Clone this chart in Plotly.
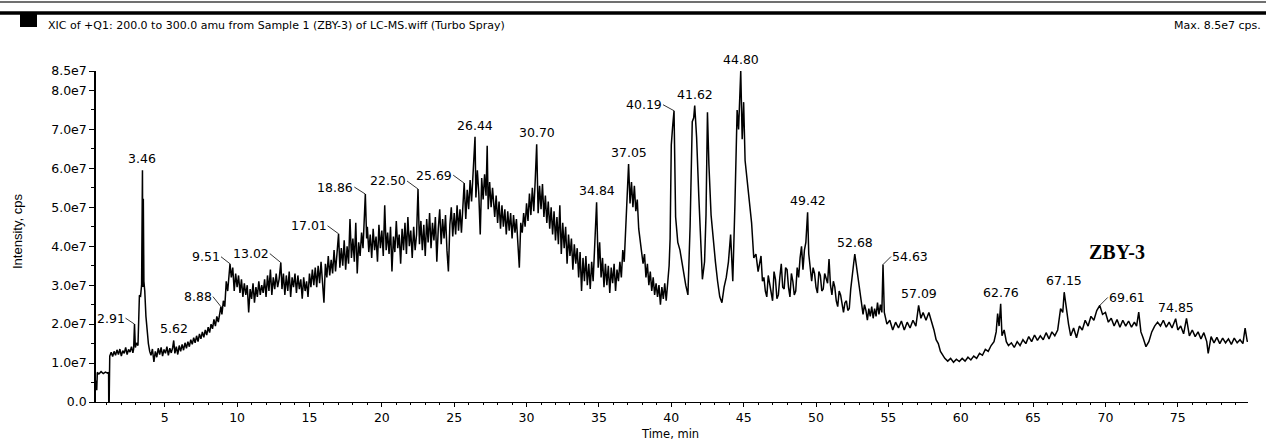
import plotly.graph_objects as go

# ---------------- data ----------------
# (retention time in min, intensity in units of 1e7 cps)
early_points = [
    (0.25, 0.35), (0.27, 0.55), (0.30, 0.30), (0.34, 0.76), (0.45, 0.72), (0.60, 0.78), (0.75, 0.73),
    (0.90, 0.77), (1.05, 0.74), (1.12, 0.76), (1.13, 0.00), (1.16, 0.00), (1.20, 1.18),
    (1.3, 1.28), (1.4, 1.17), (1.5, 1.30), (1.6, 1.20), (1.7, 1.34), (1.8, 1.22), (1.9, 1.36), (2.0, 1.18),
    (2.1, 1.32), (2.2, 1.25), (2.3, 1.40), (2.4, 1.22), (2.5, 1.35), (2.6, 1.28), (2.7, 1.42), (2.8, 1.26),
    (2.85, 1.36), (2.91, 2.00), (2.97, 1.40), (3.05, 1.52), (3.15, 1.45), (3.25, 2.74), (3.33, 2.72),
    (3.40, 3.00), (3.46, 5.95), (3.49, 2.95), (3.52, 5.22), (3.56, 3.10), (3.62, 2.85), (3.70, 2.20),
    (3.78, 1.80), (3.87, 1.50), (3.96, 1.30),
    (4.05, 1.20), (4.15, 1.36), (4.25, 1.03), (4.35, 1.30), (4.45, 1.15), (4.55, 1.38), (4.65, 1.22),
    (4.75, 1.40), (4.85, 1.18), (4.95, 1.35), (5.05, 1.25), (5.15, 1.42), (5.25, 1.20), (5.35, 1.38),
    (5.45, 1.26), (5.55, 1.40), (5.62, 1.58), (5.7, 1.25), (5.8, 1.42), (5.9, 1.22), (6.0, 1.45),
    (6.1, 1.30), (6.2, 1.48), (6.3, 1.33), (6.4, 1.52), (6.5, 1.38), (6.6, 1.55), (6.7, 1.42), (6.8, 1.60),
    (6.9, 1.48), (7.0, 1.65), (7.1, 1.52), (7.2, 1.70), (7.3, 1.55), (7.4, 1.75), (7.5, 1.62), (7.6, 1.80),
    (7.7, 1.66), (7.8, 1.85), (7.9, 1.72), (8.0, 1.92), (8.1, 1.78), (8.2, 2.00), (8.3, 1.88), (8.4, 2.12),
    (8.5, 1.95), (8.6, 2.20), (8.7, 2.05), (8.78, 2.30), (8.88, 2.45), (8.95, 2.25), (9.05, 2.60),
    (9.15, 2.45), (9.25, 3.10), (9.35, 2.85), (9.42, 3.30), (9.51, 3.55),
]

middle_points = [
    (9.6, 3.20), (9.7, 3.45), (9.8, 2.85), (9.9, 3.30), (10.0, 2.95), (10.1, 3.25), (10.2, 2.80),
    (10.3, 3.15), (10.4, 2.70), (10.5, 3.05), (10.6, 2.75), (10.7, 3.00), (10.8, 2.30), (10.9, 2.90),
    (11.0, 2.65), (11.1, 3.05), (11.2, 2.55), (11.3, 2.95), (11.4, 2.70), (11.5, 3.10), (11.6, 2.75),
    (11.7, 3.00), (11.8, 2.80), (11.9, 3.15), (12.0, 2.70),
    (12.1, 3.25), (12.2, 2.85), (12.3, 3.40), (12.4, 2.75), (12.5, 3.20), (12.6, 2.90), (12.7, 3.30),
    (12.8, 2.95), (12.9, 3.15), (13.02, 3.58), (13.1, 2.90), (13.2, 3.30), (13.3, 2.75), (13.4, 3.25),
    (13.5, 2.85), (13.6, 3.35), (13.7, 2.70), (13.8, 3.20), (13.9, 2.95), (14.0, 3.30), (14.1, 2.80),
    (14.2, 3.25), (14.3, 2.90), (14.4, 3.15), (14.5, 2.65), (14.6, 3.20), (14.7, 2.85), (14.8, 3.10),
    (14.9, 2.70), (15.0, 3.30), (15.1, 2.95), (15.2, 3.40),
    (15.3, 3.00), (15.4, 3.45), (15.5, 2.95), (15.6, 3.50), (15.7, 3.05), (15.8, 3.60), (15.9, 3.15),
    (16.0, 2.55), (16.1, 3.55), (16.2, 3.20), (16.3, 3.75), (16.4, 3.25), (16.5, 3.65), (16.6, 3.30),
    (16.7, 3.90), (16.8, 3.35), (16.9, 3.80), (17.01, 4.32), (17.1, 3.45), (17.2, 3.95), (17.3, 3.50),
    (17.4, 4.15), (17.5, 3.40), (17.6, 4.00), (17.7, 3.55), (17.8, 4.70), (17.9, 3.70), (18.0, 4.20),
    (18.1, 3.60), (18.2, 4.60), (18.3, 3.30), (18.4, 4.10), (18.5, 3.75),
    (18.6, 4.35), (18.7, 3.95), (18.86, 5.34), (18.95, 4.20), (19.0, 4.50), (19.1, 3.85), (19.2, 4.30),
    (19.3, 3.70), (19.4, 4.45), (19.5, 3.90), (19.6, 4.25), (19.7, 3.60), (19.8, 4.55), (19.9, 3.95),
    (20.0, 4.40), (20.1, 3.75), (20.2, 5.05), (20.3, 3.90), (20.4, 4.35), (20.5, 3.80), (20.6, 4.50),
    (20.7, 3.35), (20.8, 4.25), (20.9, 3.85), (21.0, 4.65), (21.1, 3.95), (21.2, 4.30), (21.3, 3.55),
    (21.4, 4.45), (21.5, 3.90), (21.6, 4.60), (21.7, 3.80), (21.8, 4.75), (21.9, 4.00), (22.0, 4.40),
    (22.1, 3.70), (22.2, 4.50), (22.3, 3.90), (22.4, 4.30), (22.5, 5.47),
    (22.6, 4.05), (22.7, 4.65), (22.8, 3.90), (22.9, 4.55), (23.0, 3.75), (23.1, 4.70), (23.2, 4.10),
    (23.3, 4.85), (23.4, 3.95), (23.5, 4.60), (23.6, 4.15), (23.7, 4.75), (23.8, 3.60), (23.9, 4.45),
    (24.0, 4.95), (24.1, 4.05), (24.2, 4.70), (24.3, 4.20), (24.4, 4.80), (24.5, 3.90), (24.6, 3.35),
    (24.7, 4.55), (24.8, 5.00), (24.9, 4.25), (25.0, 4.85), (25.1, 4.30), (25.2, 5.05), (25.3, 4.40),
    (25.4, 4.95), (25.5, 4.35), (25.6, 5.10), (25.69, 5.62),
    (25.8, 4.70), (25.9, 5.45), (26.0, 4.95), (26.1, 5.70), (26.2, 5.15), (26.3, 5.90), (26.44, 6.81),
    (26.5, 5.25), (26.6, 5.95), (26.7, 5.35), (26.8, 4.30), (26.9, 5.75), (27.0, 5.20), (27.1, 5.85),
    (27.2, 5.30), (27.28, 6.58), (27.35, 4.95), (27.45, 5.65), (27.55, 5.00), (27.65, 5.50),
    (27.8, 4.75), (27.9, 5.30), (28.0, 4.60), (28.1, 5.15), (28.2, 4.45), (28.3, 5.05), (28.4, 4.50),
    (28.5, 4.95), (28.6, 4.30), (28.7, 4.90), (28.8, 4.40), (28.9, 4.85), (29.0, 4.20), (29.1, 4.80),
    (29.2, 4.35), (29.3, 4.70), (29.4, 4.15), (29.5, 3.45), (29.6, 4.60), (29.7, 4.35), (29.8, 4.85),
    (29.9, 4.50),
    (30.0, 5.10), (30.1, 4.65), (30.2, 5.35), (30.3, 4.80), (30.4, 5.50), (30.5, 4.90), (30.6, 5.70),
    (30.7, 6.62), (30.8, 4.85), (30.9, 5.55), (31.0, 4.95), (31.1, 5.60), (31.2, 4.75), (31.3, 5.30),
    (31.4, 4.60), (31.5, 5.15),
    (31.6, 4.45), (31.7, 5.00), (31.8, 4.30), (31.9, 4.90), (32.0, 4.15), (32.1, 4.75), (32.2, 4.05),
    (32.3, 5.05), (32.4, 3.80), (32.5, 4.60), (32.6, 3.95), (32.7, 4.50), (32.8, 3.55), (32.9, 4.30),
    (33.0, 3.75), (33.1, 4.20), (33.2, 3.40), (33.3, 4.05), (33.4, 3.55), (33.5, 3.95), (33.6, 3.20),
    (33.7, 3.85), (33.8, 2.85), (33.9, 3.70), (34.0, 3.10), (34.1, 3.75), (34.2, 3.00), (34.3, 3.55),
    (34.4, 2.90), (34.5, 3.60), (34.6, 3.10), (34.7, 3.80), (34.84, 5.13),
    (34.95, 3.45), (35.05, 4.10), (35.15, 3.20), (35.25, 3.70), (35.35, 2.95), (35.45, 3.55),
    (35.55, 3.00), (35.65, 3.50), (35.75, 2.80), (35.85, 3.45), (35.95, 3.05), (36.05, 3.55),
    (36.15, 2.85), (36.25, 3.40), (36.35, 3.10), (36.45, 3.60), (36.55, 3.20), (36.65, 3.90),
    (36.75, 3.60), (36.85, 4.60), (36.95, 5.20), (37.05, 6.11), (37.15, 5.10), (37.25, 5.65),
    (37.35, 5.00), (37.45, 5.55), (37.55, 4.90), (37.65, 5.20), (37.75, 4.45), (37.85, 4.20),
    (37.95, 3.85), (38.05, 3.55), (38.15, 3.80),
]

late_points = [
    (38.25, 3.20), (38.35, 3.55), (38.45, 3.00), (38.55, 3.35), (38.65, 2.85), (38.75, 3.20),
    (38.85, 2.75), (38.95, 3.05), (39.05, 2.70), (39.15, 3.00), (39.25, 2.50), (39.35, 2.95),
    (39.45, 2.65), (39.55, 3.05), (39.65, 2.60), (39.75, 3.15), (39.85, 3.50), (39.92, 4.20),
    (40.0, 6.60), (40.1, 7.10), (40.19, 7.48), (40.3, 4.75), (40.45, 4.10), (40.6, 3.90), (40.8, 3.40),
    (41.0, 3.00), (41.15, 2.75), (41.3, 4.50), (41.45, 7.20), (41.55, 7.30), (41.62, 7.61), (41.75, 6.80),
    (41.9, 5.30), (42.05, 3.70), (42.15, 3.15), (42.3, 3.60), (42.4, 4.80), (42.5, 7.44), (42.6, 6.10),
    (42.75, 4.80), (42.9, 4.10), (43.05, 3.60), (43.2, 3.10), (43.35, 2.70), (43.5, 2.55), (43.65, 2.95),
    (43.8, 3.20), (43.95, 3.60), (44.1, 4.30), (44.25, 3.10), (44.4, 5.10), (44.55, 7.50), (44.65, 7.00),
    (44.8, 8.50), (44.9, 6.75), (45.0, 7.70), (45.1, 6.20), (45.25, 5.60), (45.4, 5.00), (45.55, 4.60),
    (45.7, 3.70), (45.85, 3.80), (46.0, 3.35),
    (46.1, 3.60), (46.2, 3.75), (46.3, 3.10), (46.4, 3.20), (46.5, 2.85), (46.6, 2.70), (46.7, 3.25),
    (46.8, 3.05), (46.9, 2.80), (47.0, 2.60), (47.1, 3.35), (47.2, 3.15), (47.3, 2.65), (47.4, 2.75),
    (47.5, 3.20), (47.6, 3.55), (47.7, 2.95), (47.8, 2.90), (47.9, 3.45), (48.0, 3.40), (48.1, 2.95),
    (48.2, 2.70), (48.3, 3.30), (48.4, 3.10), (48.5, 2.75), (48.6, 2.85), (48.7, 3.45), (48.8, 3.20),
    (48.9, 3.70), (49.0, 4.00), (49.1, 3.40), (49.2, 3.90), (49.3, 4.10), (49.42, 4.87), (49.5, 3.80),
    (49.6, 3.35), (49.7, 3.10), (49.8, 3.45), (49.9, 3.30), (50.0, 2.95), (50.1, 2.80), (50.2, 3.35),
    (50.3, 3.25), (50.4, 2.85), (50.5, 2.90), (50.6, 3.30), (50.7, 3.15), (50.8, 3.05), (50.9, 3.67),
    (51.0, 3.00), (51.1, 2.75), (51.2, 3.10), (51.3, 2.95), (51.4, 2.60), (51.5, 2.45), (51.6, 2.85),
    (51.7, 2.75), (51.8, 2.50), (51.9, 2.30), (52.0, 2.55), (52.1, 2.60), (52.2, 2.35), (52.3, 2.40),
    (52.4, 2.90), (52.5, 3.30), (52.6, 3.55), (52.68, 3.80), (52.75, 3.60), (52.85, 3.40), (52.95, 3.05),
    (53.05, 2.70), (53.15, 2.45), (53.25, 2.25), (53.35, 2.50), (53.45, 2.35), (53.55, 2.10),
    (53.65, 2.40), (53.75, 2.20), (53.85, 2.45), (53.95, 2.15), (54.05, 2.40), (54.15, 2.20),
    (54.25, 2.55), (54.35, 2.25), (54.45, 2.50), (54.55, 2.30), (54.63, 3.53), (54.72, 2.30),
    (54.8, 2.15), (54.9, 2.00),
]

tail_points = [
    (55.1, 2.10), (55.3, 1.85), (55.5, 2.05), (55.7, 1.90), (55.9, 2.08), (56.1, 1.85), (56.3, 2.05),
    (56.5, 1.90), (56.7, 2.10), (56.9, 1.95), (57.09, 2.48), (57.25, 2.15), (57.4, 2.30), (57.6, 2.10),
    (57.8, 2.30), (58.0, 2.05), (58.15, 1.85), (58.3, 1.60), (58.45, 1.50), (58.6, 1.30), (58.75, 1.22),
    (58.9, 1.12), (59.1, 1.05), (59.3, 1.12), (59.5, 1.02), (59.7, 1.10), (59.9, 1.04), (60.1, 1.12),
    (60.3, 1.05), (60.5, 1.15), (60.7, 1.08), (60.9, 1.18), (61.1, 1.12), (61.3, 1.25), (61.5, 1.20),
    (61.7, 1.35), (61.9, 1.30), (62.1, 1.45), (62.3, 1.55), (62.45, 1.80), (62.55, 2.27), (62.65, 1.95),
    (62.76, 2.52), (62.85, 1.70), (63.0, 1.85), (63.15, 1.55),
    (63.3, 1.45), (63.5, 1.52), (63.7, 1.40), (63.9, 1.55), (64.1, 1.45), (64.3, 1.60), (64.5, 1.50),
    (64.7, 1.68), (64.9, 1.55), (65.1, 1.72), (65.3, 1.58), (65.5, 1.70), (65.7, 1.60), (65.9, 1.78),
    (66.1, 1.62), (66.3, 1.80), (66.5, 1.70), (66.7, 1.85), (66.9, 2.40), (67.05, 2.30), (67.15, 2.82),
    (67.3, 2.35), (67.45, 2.00), (67.6, 1.70), (67.8, 1.90), (68.0, 1.65), (68.2, 1.95), (68.4, 1.85),
    (68.6, 2.10), (68.8, 1.95), (69.0, 2.20), (69.2, 2.10), (69.4, 2.35), (69.61, 2.48), (69.8, 2.25),
    (70.0, 2.30),
    (70.2, 2.05), (70.4, 2.15), (70.6, 1.95), (70.8, 2.12), (71.0, 1.92), (71.2, 2.10), (71.4, 1.95),
    (71.6, 2.08), (71.8, 1.92), (72.0, 2.05), (72.15, 1.95), (72.3, 2.31), (72.45, 1.80), (72.6, 1.65),
    (72.8, 1.42), (73.0, 1.55), (73.2, 1.80), (73.4, 1.95), (73.6, 2.05), (73.8, 1.95), (74.0, 2.10),
    (74.2, 1.92), (74.4, 2.05), (74.6, 1.90), (74.85, 2.14), (75.0, 1.85), (75.2, 1.95), (75.4, 1.75),
    (75.6, 2.15), (75.8, 1.70), (76.0, 1.85), (76.2, 1.68), (76.4, 1.80), (76.6, 1.62), (76.8, 1.78),
    (77.0, 1.55), (77.1, 1.25), (77.3, 1.68), (77.5, 1.52), (77.7, 1.66), (77.9, 1.50), (78.1, 1.64),
    (78.3, 1.52), (78.5, 1.62), (78.7, 1.48), (78.9, 1.64), (79.1, 1.52), (79.3, 1.60), (79.5, 1.50),
    (79.65, 1.90), (79.8, 1.55), (79.85, 1.58),
]

peak_labels = ["2.91", "3.46", "5.62", "8.88", "9.51", "13.02", "17.01", "18.86", "22.50",
               "25.69", "26.44", "30.70", "34.84", "37.05", "40.19", "41.62", "44.80", "49.42",
               "52.68", "54.63", "57.09", "62.76", "67.15", "69.61", "74.85"]

y_tick_values = [0, 1e7, 2e7, 3e7, 4e7, 5e7, 6e7, 7e7, 8e7, 8.5e7]
y_tick_text = ["0.0", "1.0e7", "2.0e7", "3.0e7", "4.0e7", "5.0e7", "6.0e7", "7.0e7", "8.0e7", "8.5e7"]

header_text = "XIC of +Q1: 200.0 to 300.0 amu from Sample 1 (ZBY-3) of LC-MS.wiff (Turbo Spray)"
max_text = "Max. 8.5e7 cps."
sample_name = "ZBY-3"

all_points = early_points + middle_points + late_points + tail_points
retention_time = [p[0] for p in all_points]
intensity = [p[1] * 1e7 for p in all_points]

# ---------------- style ----------------
# labels drawn with a short leader line: (dx px, dy px, anchor side)
leader_style = {
    "2.91": (-9, -6, "right"), "8.88": (-8, -10, "right"), "9.51": (-9, -7, "right"),
    "13.02": (-11, -9, "right"), "17.01": (-11, -8, "right"), "18.86": (-11, -7, "right"),
    "22.50": (-11, -8, "right"), "25.69": (-11, -8, "right"), "40.19": (-11, -6, "right"),
    "54.63": (8, -8, "left"), "69.61": (8, -8, "left"),
}
LABEL_FONT = dict(family="DejaVu Sans", size=12.5, color="black")
TICK_FONT = dict(family="DejaVu Sans", size=12.5, color="black")

W, H = 1266, 444
L, R, T, B = 96, 18, 71, 42
plot_w, plot_h = W - L - R, H - T - B


def px_to_paper_x(px):
    return (px - L) / plot_w


def py_to_paper_y(py):
    return (H - B - py) / plot_h


fig = go.Figure()
fig.add_trace(go.Scatter(
    x=retention_time, y=intensity, mode="lines",
    line=dict(color="black", width=1.5),
    hoverinfo="skip", showlegend=False,
))

annotations = []
lookup = dict(zip(retention_time, intensity))
for lab in peak_labels:
    t = float(lab)
    v = lookup[t]
    if lab in leader_style:
        dx, dy, side = leader_style[lab]
        annotations.append(dict(
            x=t, y=v, xref="x", yref="y", text=lab, showarrow=True,
            arrowhead=0, arrowwidth=0.8, arrowcolor="black", standoff=0,
            ax=dx, ay=dy, xanchor=side, yanchor="middle", font=LABEL_FONT, borderpad=0,
        ))
    else:
        annotations.append(dict(
            x=t, y=v, xref="x", yref="y", text=lab, showarrow=False,
            yanchor="bottom", yshift=2, font=LABEL_FONT,
        ))

annotations += [
    dict(text=header_text, xref="paper", yref="paper", x=px_to_paper_x(46), y=py_to_paper_y(25),
         xanchor="left", yanchor="middle", showarrow=False,
         font=dict(family="DejaVu Sans", size=11, color="black")),
    dict(text=max_text, xref="paper", yref="paper", x=px_to_paper_x(1263), y=py_to_paper_y(25),
         xanchor="right", yanchor="middle", showarrow=False,
         font=dict(family="DejaVu Sans", size=11, color="black")),
    dict(text=sample_name, xref="paper", yref="paper", x=px_to_paper_x(1117), y=py_to_paper_y(252),
         xanchor="center", yanchor="middle", showarrow=False,
         font=dict(family="Liberation Serif", size=20, color="black", weight="bold")),
    dict(text="Intensity, cps", xref="paper", yref="paper", x=px_to_paper_x(18), y=py_to_paper_y(232),
         xanchor="center", yanchor="middle", showarrow=False, textangle=-90,
         font=dict(family="Liberation Sans", size=13, color="black")),
    dict(text="Time, min", xref="paper", yref="paper", x=px_to_paper_x(670), y=py_to_paper_y(434),
         xanchor="center", yanchor="middle", showarrow=False,
         font=dict(family="DejaVu Sans", size=11.5, color="black")),
]

shapes = [
    dict(type="line", xref="paper", yref="paper", x0=px_to_paper_x(0), x1=px_to_paper_x(W),
         y0=py_to_paper_y(2), y1=py_to_paper_y(2), line=dict(color="#707070", width=2)),
    dict(type="line", xref="paper", yref="paper", x0=px_to_paper_x(0), x1=px_to_paper_x(W),
         y0=py_to_paper_y(13), y1=py_to_paper_y(13), line=dict(color="black", width=3.5)),
    dict(type="rect", xref="paper", yref="paper", x0=px_to_paper_x(20), x1=px_to_paper_x(37),
         y0=py_to_paper_y(27), y1=py_to_paper_y(14), fillcolor="black", line=dict(width=0)),
]

fig.update_layout(
    width=W, height=H,
    margin=dict(l=L, r=R, t=T, b=B),
    paper_bgcolor="white", plot_bgcolor="white",
    annotations=annotations, shapes=shapes,
    showlegend=False,
    xaxis=dict(
        range=[0.25, 79.85], tickmode="linear", tick0=0, dtick=5,
        ticks="outside", ticklen=4, tickwidth=1, tickcolor="black",
        showline=True, linecolor="black", linewidth=1,
        showgrid=False, zeroline=False, tickfont=TICK_FONT,
        minor=dict(tickmode="linear", tick0=0, dtick=1, ticks="outside", ticklen=2,
                   tickwidth=1, tickcolor="black", showgrid=False),
        fixedrange=True,
    ),
    yaxis=dict(
        range=[0, 8.5e7], tickmode="array", tickvals=y_tick_values, ticktext=y_tick_text,
        ticks="outside", ticklen=5, tickwidth=1, tickcolor="black",
        showline=True, linecolor="black", linewidth=1.5,
        showgrid=False, zeroline=False, tickfont=TICK_FONT,
        minor=dict(tickmode="linear", tick0=0, dtick=0.5e7, ticks="outside", ticklen=3,
                   tickwidth=1, tickcolor="black", showgrid=False),
        fixedrange=True,
    ),
)

# remove the default 8px page margin so the figure fills the 1266x444 window exactly
fig.write_html("out.html", config={"displayModeBar": False},
               post_script="document.body.style.margin='0px';")
